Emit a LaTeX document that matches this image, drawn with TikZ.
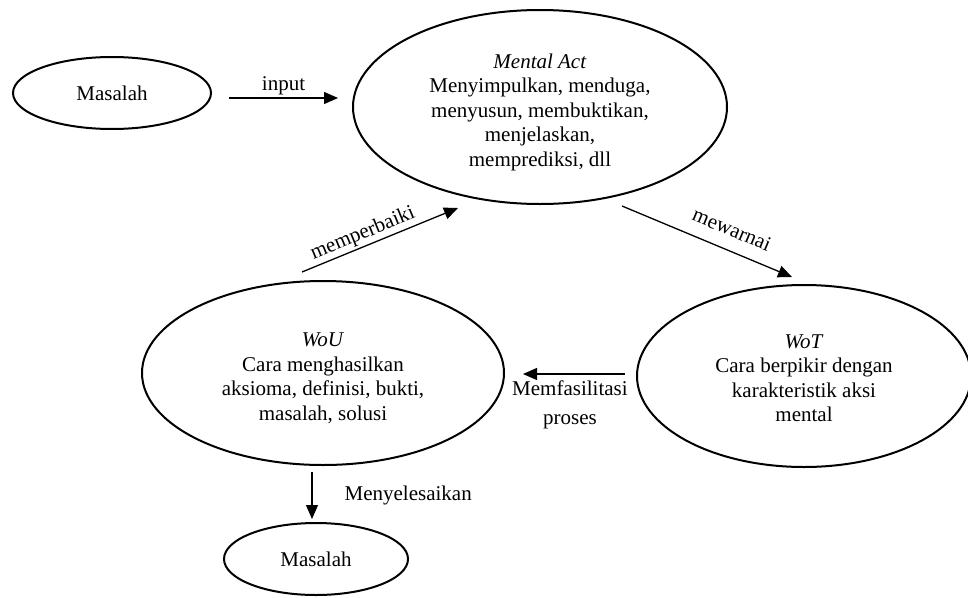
\documentclass[tikz,border=0pt]{standalone}
\usepackage{fontspec}
\setmainfont{Liberation Serif}
\usetikzlibrary{shapes.geometric,arrows.meta}
\begin{document}
\begin{tikzpicture}[x=1pt,y=-1pt,
  ell/.style={draw, ellipse, line width=2pt, inner sep=0pt},
  txt/.style={align=center, inner sep=0pt, font=\fontsize{21}{24.5}\selectfont},
  conn/.style={line width=1.3pt, -{Triangle[length=14pt,width=12pt]}},
  lbl/.style={font=\fontsize{21}{29}\selectfont, inner sep=2pt}]
\useasboundingbox (0,0) rectangle (968,597);
\node[ell, minimum width=198pt, minimum height=72pt] (m1) at (112,93) {};
\node[txt] (m1t) at (m1) {Masalah};
\node[ell, minimum width=374pt, minimum height=194pt] (ma) at (540,107) {};
\node[txt, yshift=-5pt] (mat) at (ma) {\textit{Mental Act}\\Menyimpulkan, menduga,\\menyusun, membuktikan,\\menjelaskan,\\memprediksi, dll};
\node[ell, minimum width=362pt, minimum height=184pt] (wou) at (323,373) {};
\node[txt, yshift=-5pt] (wout) at (wou) {\textit{WoU}\\Cara menghasilkan\\aksioma, definisi, bukti,\\masalah, solusi};
\node[ell, minimum width=334pt, minimum height=182pt] (wot) at (804,376) {};
\node[txt, yshift=-2pt] (wott) at (wot) {\textit{WoT}\\Cara berpikir dengan\\karakteristik aksi\\mental};
\node[ell, minimum width=184pt, minimum height=72pt] (m2) at (316,559) {};
\node[txt] (m2t) at (m2) {Masalah};

\coordinate (a1s) at (229,98);  \coordinate (a1e) at (338,98);
\coordinate (a2s) at (302,272); \coordinate (a2e) at (458,208);
\coordinate (a3s) at (622,206); \coordinate (a3e) at (792,277);
\coordinate (a4s) at (625,374); \coordinate (a4e) at (523,374);
\coordinate (a5s) at (312,472); \coordinate (a5e) at (312,519);

\draw[conn] (a1s) -- node[lbl, above] {input} (a1e);
\draw[conn] (a2s) -- node[lbl, above, sloped, pos=0.42] {memperbaiki} (a2e);
\draw[conn] (a3s) -- node[lbl, above=11pt, sloped, pos=0.6] {mewarnai} (a3e);
\draw[conn] (a4s) -- node[lbl, below=4pt, align=center, pos=0.54] {Memfasilitasi\\proses} (a4e);
\draw[conn] (a5s) -- node[lbl, right=30pt, midway] {Menyelesaikan} (a5e);
\end{tikzpicture}
\end{document}
